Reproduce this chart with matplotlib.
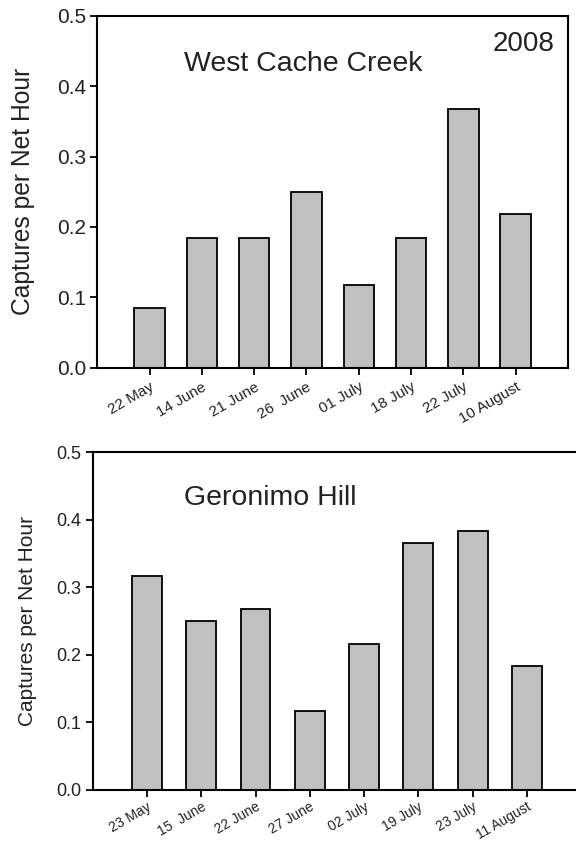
import matplotlib
matplotlib.use("Agg")
import matplotlib.pyplot as plt

plt.rcParams["font.family"] = ["Liberation Sans", "DejaVu Sans"]

# West Cache Creek, 2008
wcc_dates = ["22 May", "14 June", "21 June", "26  June", "01 July", "18 July", "22 July", "10 August"]
wcc_rate = [0.085, 0.184, 0.184, 0.250, 0.118, 0.184, 0.368, 0.218]

# Geronimo Hill
gh_dates = ["23 May", "15  June", "22 June", "27 June", "02 July", "19 July", "23 July", "11 August"]
gh_rate = [0.317, 0.251, 0.268, 0.117, 0.216, 0.366, 0.383, 0.183]

BAR_COLOR = "#c0c0c0"
TEXT_COLOR = "#222222"


def draw_panel(ax, dates, rates, width, tick_size, label_size, xtick_size, xpad):
    pos = list(range(1, len(dates) + 1))
    ax.bar(pos, rates, width=width, color=BAR_COLOR, edgecolor="black", linewidth=1.3)
    ax.set_xlim(0, len(dates) + 1)
    ax.set_ylim(0, 0.5)
    ax.set_yticks([0.0, 0.1, 0.2, 0.3, 0.4, 0.5])
    ax.set_yticklabels([f"{v:.1f}" for v in [0.0, 0.1, 0.2, 0.3, 0.4, 0.5]])
    ax.set_xticks(pos)
    ax.set_xticklabels(dates, rotation=30, ha="right", rotation_mode="anchor")
    for spine in ax.spines.values():
        spine.set_linewidth(1.5)
    ax.tick_params(axis="y", direction="out", length=5, width=1.3,
                   labelsize=tick_size, labelcolor=TEXT_COLOR, pad=3)
    ax.tick_params(axis="x", direction="out", length=5, width=1.3,
                   labelsize=xtick_size, labelcolor=TEXT_COLOR, pad=xpad)
    ax.set_ylabel("Captures per Net Hour", fontsize=label_size, color=TEXT_COLOR)


def main() -> None:
    W, H = 576, 842
    fig = plt.figure(figsize=(W / 100, H / 100), dpi=100)

    ax1 = fig.add_axes([0.169, 0.5635, 0.817, 0.4175])
    draw_panel(ax1, wcc_dates, wcc_rate, 0.58, 15, 17.7, 11, 4)
    ax1.yaxis.set_label_coords(-0.132, 0.5)
    fig.text(184 / W, 1 - 64 / H, "West Cache Creek", fontsize=20.5,
             color=TEXT_COLOR, va="center", ha="left")
    fig.text(554 / W, 1 - 44 / H, "2008", fontsize=20,
             color=TEXT_COLOR, va="center", ha="right")

    ax2 = fig.add_axes([0.161, 0.0618, 0.848, 0.4008])
    draw_panel(ax2, gh_dates, gh_rate, 0.55, 13, 15, 10, 2)
    ax2.yaxis.set_label_coords(-0.115, 0.5)
    fig.text(184 / W, 1 - 498 / H, "Geronimo Hill", fontsize=20.5,
             color=TEXT_COLOR, va="center", ha="left")

    fig.savefig("out.png", dpi=100)
    plt.close(fig)


if __name__ == "__main__":
    main()
